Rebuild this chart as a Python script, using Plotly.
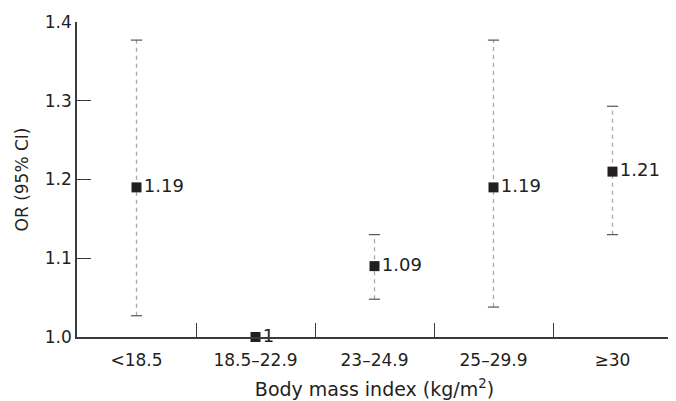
import plotly.graph_objects as go

categories = ["&lt;18.5", "18.5–22.9", "23–24.9", "25–29.9", "≥30"]
or_values = [1.19, 1.0, 1.09, 1.19, 1.21]
ci_lower = [1.027, None, 1.048, 1.038, 1.13]
ci_upper = [1.377, None, 1.13, 1.377, 1.293]
value_labels = ["1.19", "1", "1.09", "1.19", "1.21"]
y_ticks = [1.0, 1.1, 1.2, 1.3, 1.4]

FONT = "'DejaVu Sans', sans-serif"
AX = "#3a3a3a"
TXT = "#231f20"

fig = go.Figure()

# dashed CI lines with caps
for c, lo, hi in zip(categories, ci_lower, ci_upper):
    if lo is None:
        continue
    fig.add_trace(go.Scatter(
        x=[c, c], y=[lo, hi], mode="lines",
        line=dict(color="#a8a8a8", width=1.3, dash="4px,4px"),
        hoverinfo="skip", showlegend=False))
    fig.add_trace(go.Scatter(
        x=[c, c], y=[lo, hi], mode="markers",
        marker=dict(symbol="line-ew", size=8, line=dict(color="#555555", width=1.2)),
        hoverinfo="skip", showlegend=False))

fig.add_trace(go.Scatter(
    x=categories, y=or_values, mode="markers+text",
    marker=dict(symbol="square", size=10, color=TXT),
    text=value_labels, textposition="middle right",
    textfont=dict(family=FONT, size=18, color=TXT),
    cliponaxis=False,
    showlegend=False))

fig.update_layout(
    width=668, height=393,
    margin=dict(l=69, r=4, t=12, b=62),
    plot_bgcolor="white", paper_bgcolor="white",
    font=dict(family=FONT, size=17, color=TXT),
)
fig.update_xaxes(
    type="category", range=[-0.5, 4.5],
    categoryorder="array", categoryarray=categories,
    tickson="boundaries", ticks="inside", ticklen=14, tickwidth=1.3, tickcolor=AX,
    ticklabelstandoff=7,
    showline=True, linecolor=AX, linewidth=1.5, showgrid=False, zeroline=False,
    tickfont=dict(family=FONT, size=17, color=TXT),
    title=dict(text="Body mass index (kg/m<sup>2</sup>)", standoff=14,
               font=dict(family=FONT, size=19, color=TXT)),
)
fig.update_yaxes(
    range=[1.0, 1.4], tickvals=y_ticks, tickformat=".1f",
    ticks="inside", ticklen=14, tickwidth=1.3, tickcolor=AX,
    showline=True, linecolor=AX, linewidth=1.5, showgrid=False, zeroline=False,
    tickfont=dict(family=FONT, size=17, color=TXT),
    title=dict(text="OR (95% CI)", standoff=12,
               font=dict(family=FONT, size=17, color=TXT)),
)

fig.write_html("out.html")
